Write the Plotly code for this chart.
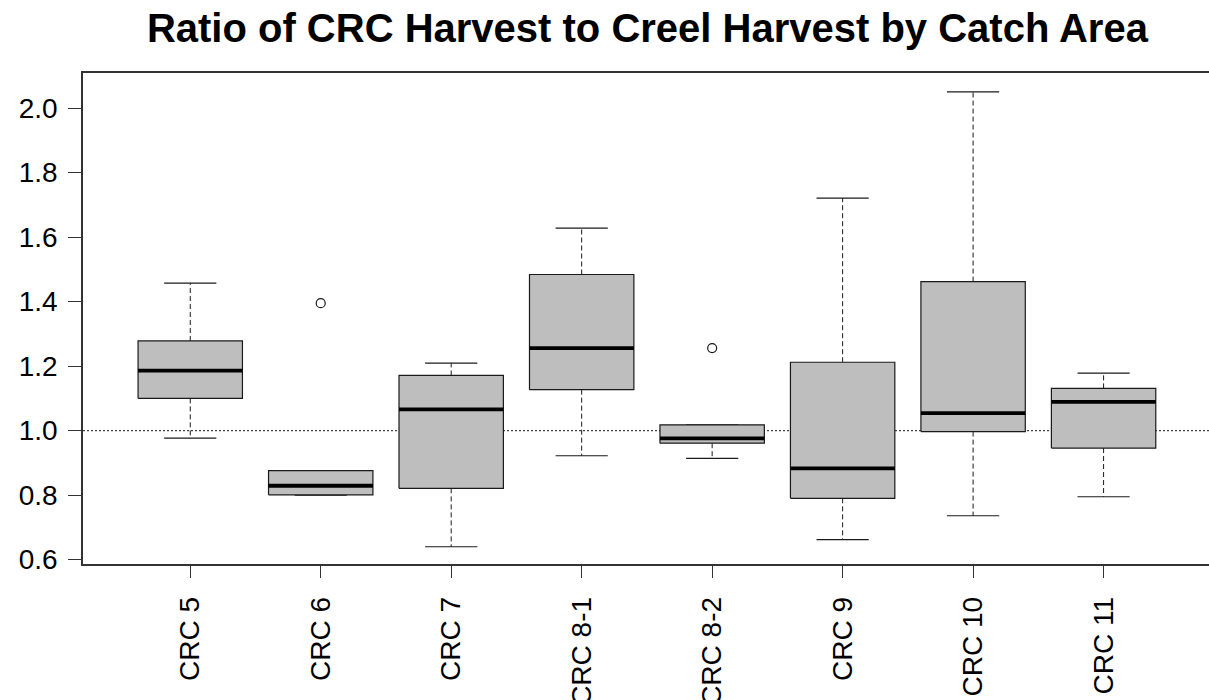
import plotly.graph_objects as go

# ---- data ----
categories = ["CRC 5", "CRC 6", "CRC 7", "CRC 8-1", "CRC 8-2", "CRC 9", "CRC 10", "CRC 11"]
lower_whisker = [0.977, 0.800, 0.640, 0.922, 0.914, 0.662, 0.736, 0.795]
q1_values = [1.100, 0.801, 0.821, 1.127, 0.961, 0.790, 0.997, 0.946]
median_values = [1.186, 0.829, 1.066, 1.256, 0.976, 0.883, 1.054, 1.089]
q3_values = [1.278, 0.876, 1.171, 1.484, 1.018, 1.212, 1.462, 1.131]
upper_whisker = [1.457, 0.876, 1.209, 1.628, 1.018, 1.721, 2.050, 1.178]
outlier_category = ["CRC 6", "CRC 8-2"]
outlier_values = [1.395, 1.256]
reference_ratio = 1.0
y_tick_values = [0.6, 0.8, 1.0, 1.2, 1.4, 1.6, 1.8, 2.0]
y_tick_labels = ["0.6", "0.8", "1.0", "1.2", "1.4", "1.6", "1.8", "2.0"]

# ---- styling ----
BOX_HALF = 0.4
CAP_HALF = 0.2
FILL = "#BEBEBE"
LINE = "#1a1a1a"
FONT = "Liberation Sans, Arial, sans-serif"

positions = list(range(1, len(categories) + 1))
pos_of = dict(zip(categories, positions))

fig = go.Figure()

for p, lo, a, m, b, hi in zip(positions, lower_whisker, q1_values, median_values, q3_values, upper_whisker):
    # dashed whiskers
    fig.add_trace(go.Scatter(
        x=[p, p, None, p, p], y=[b, hi, None, a, lo], mode="lines",
        line=dict(color=LINE, width=1, dash="5px,3px"),
        hoverinfo="skip", showlegend=False))
    # staples
    fig.add_trace(go.Scatter(
        x=[p - CAP_HALF, p + CAP_HALF, None, p - CAP_HALF, p + CAP_HALF],
        y=[hi, hi, None, lo, lo], mode="lines",
        line=dict(color=LINE, width=1.2),
        hoverinfo="skip", showlegend=False))
    # box
    fig.add_trace(go.Scatter(
        x=[p - BOX_HALF, p + BOX_HALF, p + BOX_HALF, p - BOX_HALF, p - BOX_HALF],
        y=[a, a, b, b, a], mode="lines", fill="toself", fillcolor=FILL,
        line=dict(color=LINE, width=1.2),
        hoverinfo="skip", showlegend=False))
    # median
    fig.add_trace(go.Scatter(
        x=[p - BOX_HALF, p + BOX_HALF], y=[m, m], mode="lines",
        line=dict(color="black", width=3.8),
        hoverinfo="skip", showlegend=False))

fig.add_trace(go.Scatter(
    x=[pos_of[c] for c in outlier_category], y=outlier_values, mode="markers",
    marker=dict(symbol="circle-open", size=9, color=LINE, line=dict(width=1.2)),
    hoverinfo="skip", showlegend=False))

fig.add_shape(type="line", xref="paper", x0=0, x1=1, yref="y",
              y0=reference_ratio, y1=reference_ratio, layer="below",
              line=dict(color="#444", width=1.2, dash="2px,2px"))

fig.update_layout(
    width=1209, height=700,
    margin=dict(l=83, r=0, t=73, b=136, autoexpand=False),
    paper_bgcolor="white", plot_bgcolor="white",
    font=dict(family=FONT, color="black"),
    title=dict(text="<b>Ratio of CRC Harvest to Creel Harvest by Catch Area</b>",
               x=0.5355, xanchor="center", y=0.96, yanchor="middle",
               font=dict(size=40, family=FONT, color="black")),
    xaxis=dict(range=[0.178, 8.808], tickvals=positions, ticktext=categories,
               tickangle=-90, ticks="outside", ticklen=12, tickwidth=1.2, tickcolor="#333",
               tickfont=dict(size=28, family=FONT, color="black"),
               showline=True, linecolor="#333", linewidth=1.5, mirror=True,
               showgrid=False, zeroline=False, ticklabelstandoff=8, automargin=False),
    yaxis=dict(range=[0.5865, 2.1086], tickvals=y_tick_values, ticktext=y_tick_labels,
               ticks="outside", ticklen=13, tickwidth=1.2, tickcolor="#333",
               tickfont=dict(size=28, family=FONT, color="black"),
               showline=True, linecolor="#333", linewidth=1.5, mirror=False,
               showgrid=False, zeroline=False, ticklabelstandoff=5, automargin=False),
)

fig.write_html("out.html")
